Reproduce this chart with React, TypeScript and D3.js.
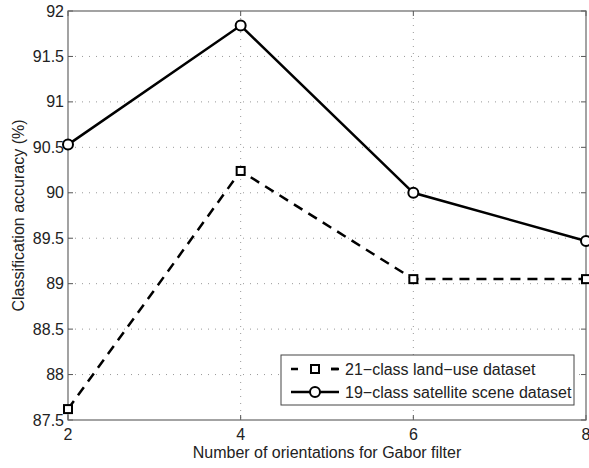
import React from "react";
import * as d3 from "d3";

const xValues = [2, 4, 6, 8];
const landUse = [87.62, 90.24, 89.05, 89.05];
const satellite = [90.53, 91.84, 90.0, 89.47];
const yTicks = [87.5, 88, 88.5, 89, 89.5, 90, 90.5, 91, 91.5, 92];
const xTicks = [2, 4, 6, 8];
const seriesNames = ["21\u2212class land\u2212use dataset", "19\u2212class satellite scene dataset"];

const W = 589, H = 468;
const L = 68, R = 586, T = 11, B = 420;

export default function App() {
  const x = d3.scaleLinear().domain([2, 8]).range([L, R]);
  const y = d3.scaleLinear().domain([87.5, 92]).range([B, T]);
  const line = d3.line<number>().x((_, i) => x(xValues[i])).y((d) => y(d));
  const font = "'Liberation Sans', Arial, Helvetica, sans-serif";
  const tick = 5;
  return (
    <svg width={W} height={H} style={{ position: "absolute", left: 0, top: 0, background: "#fff" }} fontFamily={font}>
      <rect x={0} y={0} width={W} height={H} fill="#fff" />
      {/* grid */}
      {yTicks.slice(1, -1).map((t) => (
        <line key={"gy" + t} x1={L} x2={R} y1={y(t)} y2={y(t)} stroke="#999" strokeWidth={1} strokeDasharray="1,6" />
      ))}
      {xTicks.slice(1, -1).map((t) => (
        <line key={"gx" + t} x1={x(t)} x2={x(t)} y1={T} y2={B} stroke="#999" strokeWidth={1} strokeDasharray="1,6" />
      ))}
      {/* ticks */}
      {yTicks.map((t) => (
        <g key={"ty" + t}>
          <line x1={L} x2={L + tick} y1={y(t)} y2={y(t)} stroke="#555" />
          <line x1={R} x2={R - tick} y1={y(t)} y2={y(t)} stroke="#555" />
          <text x={L - 4} y={y(t)} dy="0.35em" textAnchor="end" fontSize={16} fill="#222">{String(t)}</text>
        </g>
      ))}
      {xTicks.map((t) => (
        <g key={"tx" + t}>
          <line x1={x(t)} x2={x(t)} y1={B} y2={B - tick} stroke="#555" />
          <line x1={x(t)} x2={x(t)} y1={T} y2={T + tick} stroke="#555" />
          <text x={x(t)} y={B + 20} textAnchor="middle" fontSize={16} fill="#222">{String(t)}</text>
        </g>
      ))}
      <rect x={L} y={T} width={R - L} height={B - T} fill="none" stroke="#666" strokeWidth={1.2} />
      {/* series */}
      <path d={line(landUse) || ""} fill="none" stroke="#000" strokeWidth={2.5} strokeDasharray="10,7" />
      <path d={line(satellite) || ""} fill="none" stroke="#000" strokeWidth={2.5} />
      {landUse.map((v, i) => (
        <rect key={"s" + i} x={x(xValues[i]) - 4} y={y(v) - 4} width={8} height={8} fill="#fff" stroke="#000" strokeWidth={2} />
      ))}
      {satellite.map((v, i) => (
        <circle key={"c" + i} cx={x(xValues[i])} cy={y(v)} r={5} fill="#fff" stroke="#000" strokeWidth={2} />
      ))}
      {/* legend */}
      <rect x={281} y={355} width={293} height={50} fill="#fff" stroke="#444" strokeWidth={1} />
      <line x1={291} x2={339} y1={369} y2={369} stroke="#000" strokeWidth={2.5} strokeDasharray="7,13" />
      <line x1={331} x2={339} y1={369} y2={369} stroke="#000" strokeWidth={2.5} />
      <rect x={311} y={365} width={8} height={8} fill="#fff" stroke="#000" strokeWidth={2} />
      <text x={345} y={369} dy="0.35em" fontSize={16} fill="#222">{seriesNames[0]}</text>
      <line x1={291} x2={339} y1={392} y2={392} stroke="#000" strokeWidth={2.5} />
      <circle cx={315} cy={392} r={5} fill="#fff" stroke="#000" strokeWidth={2} />
      <text x={345} y={392} dy="0.35em" fontSize={16} fill="#222">{seriesNames[1]}</text>
      {/* axis labels */}
      <text x={(L + R) / 2} y={458} textAnchor="middle" fontSize={16} fill="#222">Number of orientations for Gabor filter</text>
      <text transform={`translate(24,${(T + B) / 2}) rotate(-90)`} textAnchor="middle" fontSize={16} fill="#222">Classification accuracy (%)</text>
    </svg>
  );
}
